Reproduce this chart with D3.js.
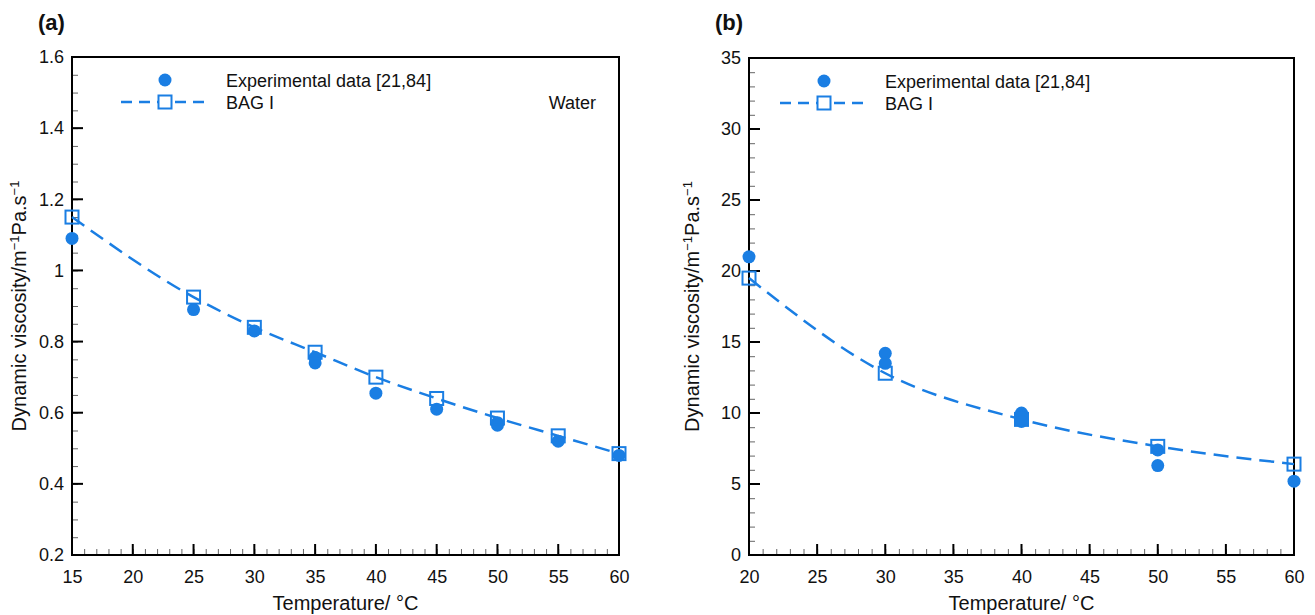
<!DOCTYPE html>
<meta charset="utf-8">
<script src="https://d3js.org/d3.v7.min.js"></script>
<style>
  body { margin: 0; background: #fff; }
  text { font-family: "Liberation Sans", Arial, sans-serif; fill: #111; }
</style>
<div id="chart"></div>
<script>
// Panel (a): water
var tempA = [15, 25, 30, 35, 40, 45, 50, 55, 60];
var bagA = [1.15, 0.925, 0.84, 0.77, 0.70, 0.64, 0.585, 0.535, 0.485];
var expTempA = [15, 25, 30, 35, 35, 40, 45, 50, 50, 55, 60];
var expA = [1.09, 0.89, 0.83, 0.755, 0.74, 0.655, 0.61, 0.572, 0.565, 0.52, 0.48];
var xTicksA = [15, 20, 25, 30, 35, 40, 45, 50, 55, 60];
var yTicksA = [0.2, 0.4, 0.6, 0.8, 1, 1.2, 1.4, 1.6];

// Panel (b)
var tempB = [20, 30, 40, 50, 60];
var bagB = [19.5, 12.8, 9.55, 7.65, 6.4];
var expTempB = [20, 30, 30, 40, 40, 40, 50, 50, 60];
var expB = [21.0, 14.2, 13.5, 10.0, 9.7, 9.4, 7.4, 6.3, 5.2];
var xTicksB = [20, 25, 30, 35, 40, 45, 50, 55, 60];
var yTicksB = [0, 5, 10, 15, 20, 25, 30, 35];

var blue = "#1a7ee3";

var svg = d3.select("#chart").append("svg")
  .attr("width", 1315)
  .attr("height", 615);

function drawPanel(p) {
  var g = svg.append("g");
  var x = d3.scaleLinear().domain(p.xDomain).range([p.left, p.right]);
  var y = d3.scaleLinear().domain(p.yDomain).range([p.bottom, p.top]);

  // minor ticks (inward)
  g.append("g")
    .attr("transform", "translate(0," + p.bottom + ")")
    .call(d3.axisTop(x).tickValues(d3.range(p.xDomain[0], p.xDomain[1] + 0.001, p.xMinor)).tickSize(6).tickFormat(""))
    .call(s => s.select(".domain").remove())
    .selectAll("line").attr("stroke", "#666").attr("stroke-width", 1);
  g.append("g")
    .attr("transform", "translate(" + p.left + ",0)")
    .call(d3.axisRight(y).tickValues(d3.range(p.yDomain[0], p.yDomain[1] + 1e-9, p.yMinor)).tickSize(6).tickFormat(""))
    .call(s => s.select(".domain").remove())
    .selectAll("line").attr("stroke", "#666").attr("stroke-width", 1);

  // major ticks (inward) + labels
  var xa = g.append("g")
    .attr("transform", "translate(0," + p.bottom + ")")
    .call(d3.axisBottom(x).tickValues(p.xTicks).tickSize(0).tickPadding(15));
  xa.select(".domain").remove();
  xa.selectAll("text").style("font-size", "18px");
  g.append("g").selectAll("line").data(p.xTicks).join("line")
    .attr("x1", d => x(d)).attr("x2", d => x(d))
    .attr("y1", p.bottom).attr("y2", p.bottom - 11)
    .attr("stroke", "#000").attr("stroke-width", 2);

  var ya = g.append("g")
    .attr("transform", "translate(" + p.left + ",0)")
    .call(d3.axisLeft(y).tickValues(p.yTicks).tickSize(0).tickPadding(8).tickFormat(p.yFormat));
  ya.select(".domain").remove();
  ya.selectAll("text").style("font-size", "18px");
  g.append("g").selectAll("line").data(p.yTicks).join("line")
    .attr("x1", p.left).attr("x2", p.left + 11)
    .attr("y1", d => y(d)).attr("y2", d => y(d))
    .attr("stroke", "#000").attr("stroke-width", 2);

  // frame
  g.append("rect")
    .attr("x", p.left).attr("y", p.top)
    .attr("width", p.right - p.left).attr("height", p.bottom - p.top)
    .attr("fill", "none").attr("stroke", "#000").attr("stroke-width", 2);

  // BAG I line
  var line = d3.line().x(d => x(d[0])).y(d => y(d[1])).curve(d3.curveMonotoneX);
  g.append("path")
    .datum(d3.zip(p.temp, p.bag))
    .attr("d", line)
    .attr("fill", "none").attr("stroke", blue).attr("stroke-width", 2.5)
    .attr("stroke-dasharray", "15,8");

  // experimental points
  g.append("g").selectAll("circle").data(d3.zip(p.expTemp, p.exp)).join("circle")
    .attr("cx", d => x(d[0])).attr("cy", d => y(d[1])).attr("r", 6.5)
    .attr("fill", blue);

  // BAG I squares
  g.append("g").selectAll("rect").data(d3.zip(p.temp, p.bag)).join("rect")
    .attr("x", d => x(d[0]) - 6.5).attr("y", d => y(d[1]) - 6.5)
    .attr("width", 13).attr("height", 13)
    .attr("fill", "none").attr("stroke", blue).attr("stroke-width", 2);

  // legend
  var lx = p.left + p.legendDx, ly = p.top + 23;
  g.append("circle").attr("cx", lx).attr("cy", ly).attr("r", 6.5).attr("fill", blue);
  g.append("line")
    .attr("x1", lx - 44).attr("x2", lx + 44)
    .attr("y1", ly + 22).attr("y2", ly + 22)
    .attr("stroke", blue).attr("stroke-width", 2.5).attr("stroke-dasharray", "11,7");
  g.append("rect").attr("x", lx - 6.5).attr("y", ly + 15.5).attr("width", 13).attr("height", 13)
    .attr("fill", "#fff").attr("stroke", blue).attr("stroke-width", 2);
  g.append("text").attr("x", lx + 61).attr("y", ly + 7).style("font-size", "18px")
    .text("Experimental data [21,84]");
  g.append("text").attr("x", lx + 61).attr("y", ly + 29).style("font-size", "18px")
    .text("BAG I");
  if (p.note) {
    g.append("text").attr("x", p.right - 23).attr("y", ly + 29).attr("text-anchor", "end")
      .style("font-size", "18px").text(p.note);
  }

  // titles
  g.append("text")
    .attr("x", (p.left + p.right) / 2).attr("y", p.bottom + 55)
    .attr("text-anchor", "middle").style("font-size", "20px")
    .text("Temperature/ °C");
  var yt = g.append("text")
    .attr("transform", "translate(" + (p.left - p.titleDx) + "," + ((p.top + p.bottom) / 2) + ") rotate(-90)")
    .attr("text-anchor", "middle").style("font-size", "20px");
  yt.append("tspan").text("Dynamic viscosity/m");
  yt.append("tspan").attr("baseline-shift", "super").style("font-size", "13px").text("−1");
  yt.append("tspan").text("Pa.s");
  yt.append("tspan").attr("baseline-shift", "super").style("font-size", "13px").text("−1");

  g.append("text")
    .attr("x", p.left - 34).attr("y", 30)
    .style("font-size", "22px").style("font-weight", "bold")
    .text(p.label);
}

drawPanel({
  label: "(a)", note: "Water",
  left: 72, right: 619, top: 57, bottom: 555, titleDx: 46,
  xDomain: [15, 60], yDomain: [0.2, 1.6], xMinor: 1, yMinor: 0.05,
  xTicks: xTicksA, yTicks: yTicksA, yFormat: d3.format("~g"),
  temp: tempA, bag: bagA, expTemp: expTempA, exp: expA,
  legendDx: 93
});

drawPanel({
  label: "(b)",
  left: 749, right: 1294, top: 58, bottom: 555, titleDx: 50,
  xDomain: [20, 60], yDomain: [0, 35], xMinor: 1, yMinor: 1,
  xTicks: xTicksB, yTicks: yTicksB, yFormat: d3.format("~g"),
  temp: tempB, bag: bagB, expTemp: expTempB, exp: expB,
  legendDx: 75
});
</script>
